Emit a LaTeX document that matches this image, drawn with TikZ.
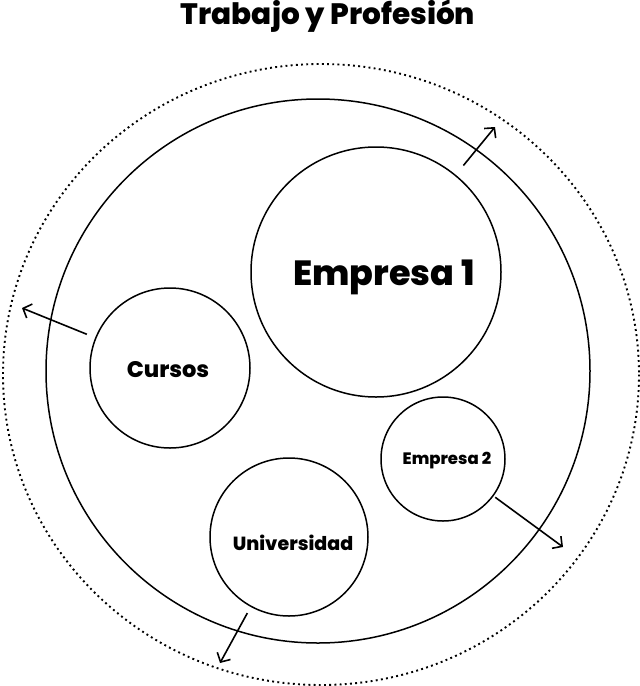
\documentclass[tikz,border=0pt]{standalone}
\usepackage{fontspec}
\setmainfont{Poppins}[UprightFont=* ExtraBold]
\usetikzlibrary{arrows.meta}

\begin{document}
\begin{tikzpicture}[x=1pt,y=-1pt,>={Straight Barb[length=7pt,width=15pt]},
  circ/.style={draw,circle,line width=1.5pt,inner sep=0pt},
  exitarrow/.style={->,line width=1.6pt}]
  \useasboundingbox (0,0) rectangle (640,686);
  \node[anchor=base,font=\fontsize{29.5}{29.5}\selectfont] (title) at (328,24) {Trabajo y Profesión};
  \draw[line width=1.9pt,dash pattern=on 1.9pt off 3.3pt] (321,374.5) ellipse (318 and 310.5);
  \node[circ,minimum size=544pt] (world) at (318,371) {};
  \node[circ,minimum size=250pt,label={[font=\fontsize{35}{35}\selectfont,xshift=8pt,yshift=-5pt]center:Empresa 1}] (emp1) at (376,272) {};
  \node[circ,minimum size=160pt,label={[font=\fontsize{22.5}{22.5}\selectfont,xshift=-2pt,yshift=-2pt]center:Cursos}] (cursos) at (170,368) {};
  \node[circ,minimum size=124pt,label={[font=\fontsize{16.5}{16.5}\selectfont,xshift=4pt,yshift=-2pt]center:Empresa 2}] (emp2) at (443,459) {};
  \node[circ,minimum size=158pt,label={[font=\fontsize{19}{19}\selectfont,xshift=4pt,yshift=-6pt]center:Universidad}] (univ) at (289,537) {};
  \coordinate (emp1out) at (495,127);
  \coordinate (cursosout) at (22,308);
  \coordinate (emp2out) at (563,547);
  \coordinate (univout) at (220,663);
  \draw[exitarrow,shorten <=12pt] (emp1) -- (emp1out);
  \draw[exitarrow,shorten <=9pt] (cursos) -- (cursosout);
  \draw[exitarrow,shorten <=2pt] (emp2) -- (emp2out);
  \draw[exitarrow,shorten <=7pt] (univ) -- (univout);
\end{tikzpicture}
\end{document}
